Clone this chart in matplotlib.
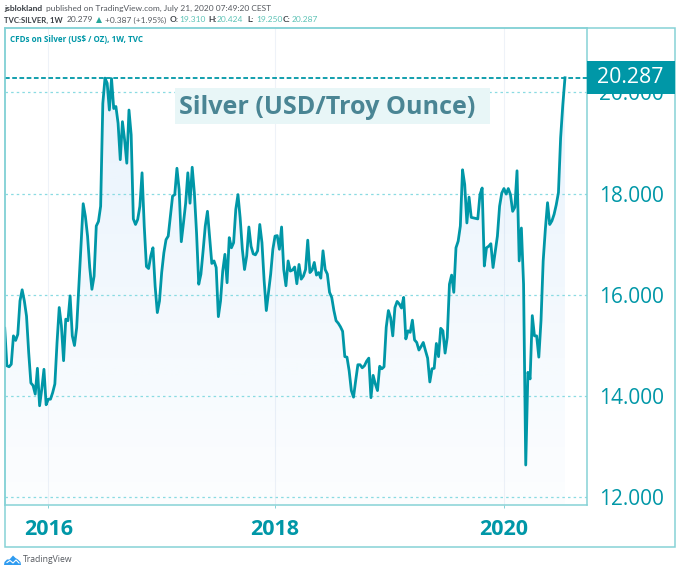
import matplotlib
matplotlib.use("Agg")
import matplotlib.pyplot as plt
from matplotlib.patches import Rectangle, Polygon
import numpy as np

plt.rcParams['font.family'] = ['Open Sans', 'DejaVu Sans']

W, H = 680, 571
TEAL = "#0097A7"
FRAME = "#86D2D6"
GRID = "#8ADBE2"
DARK = "#3A3F45"
GREY = "#55595f"
HEAD = ['Lato', 'DejaVu Sans']

# weekly closes
prices = [
    15.34, 14.60, 14.58, 14.63, 15.19, 15.10, 15.22, 15.88, 16.10, 15.88, 15.58, 14.86, 14.26, 14.21,
    14.04, 14.55, 13.81, 14.14, 14.53, 13.83, 13.94, 13.94, 14.07, 14.24, 15.06, 15.75, 15.39, 14.70,
    15.52, 15.49, 15.98, 15.19, 15.00, 15.35, 16.17, 16.95, 17.80, 17.55, 17.16, 16.54, 16.11, 16.37,
    17.36, 17.45, 17.75, 19.78, 20.28, 20.18, 19.65, 20.27, 19.68, 19.72, 19.39, 18.67, 19.42, 19.06,
    18.60, 19.65, 19.16, 17.50, 17.39, 17.49, 17.75, 18.41, 17.36, 16.56, 16.52, 16.77, 16.93, 16.17,
    15.65, 15.88, 16.44, 16.83, 17.09, 17.16, 17.55, 17.95, 17.98, 18.50, 18.08, 17.05, 17.42, 17.81,
    18.41, 17.81, 18.52, 18.01, 17.22, 16.21,
    16.41, 16.87, 17.36, 17.65, 17.13, 16.62, 16.67, 16.54, 15.57, 15.88, 16.47, 16.80, 16.24, 17.13,
    16.93, 17.03, 17.69, 17.98, 17.52, 16.90, 16.50, 16.77, 17.34, 16.96, 16.81, 16.79, 16.87, 17.39,
    17.03, 16.28, 15.69, 16.05, 16.41, 16.90, 17.16, 17.17, 16.90, 17.34, 16.50, 16.18, 16.67, 16.47,
    16.49, 16.55, 16.22, 16.60, 16.31, 16.37, 16.50, 17.08, 16.44, 16.49, 16.64, 16.39, 16.44, 16.33,
    16.87, 16.50, 16.41, 16.05, 15.95, 15.69, 15.49, 15.44, 15.37, 15.28, 14.78, 14.77, 14.50, 14.11,
    13.98, 14.31, 14.62, 14.62, 14.56, 14.60, 14.69, 14.75, 13.97, 14.41, 14.24, 14.11, 14.59, 14.54,
    14.58, 15.36, 15.69,
    15.55, 15.19, 15.75, 15.87, 15.82, 15.74, 15.95, 15.13, 15.29, 15.26, 15.50, 15.11, 15.06, 14.91,
    14.98, 15.06, 14.90, 14.75, 14.28, 14.54, 14.55, 15.04, 14.78, 15.34, 15.29, 14.85, 15.16, 16.21,
    16.39, 16.05, 16.93, 17.06, 17.36, 18.47, 18.18, 17.42, 17.93, 17.53, 17.52, 17.51, 17.50, 17.98,
    18.11, 16.57, 16.93, 16.96, 17.01, 16.54, 16.85, 17.16, 17.75, 18.01, 18.10, 17.99, 18.10, 17.98, 17.65,
    17.73, 18.45, 16.67, 17.32, 16.21, 12.64, 14.47, 14.34, 15.59, 15.19, 15.19, 14.77, 15.49, 16.67,
    17.30, 17.82, 17.39, 17.46, 17.59, 17.78, 18.02, 19.10, 19.75, 20.287,
]
y_ticks = [12, 14, 16, 18, 20]
# the time axis counts bars, years sit on the first bar of the year
x_ticks = [20, 124, 229]
x_labels = ["2016", "2018", "2020"]
last_price = 20.287

bars = np.arange(len(prices))

fig = plt.figure(figsize=(W / 100, H / 100), dpi=100, facecolor="white")


def axes_from_px(x0, y0, x1, y1):
    return [x0 / W, 1 - y1 / H, (x1 - x0) / W, (y1 - y0) / H]


ax = fig.add_axes(axes_from_px(4.5, 28, 587, 504.5))
xl = (-0.1, 267.1)
yl = (11.86, 21.27)

# gradient under the line
shade = ax.fill_between(bars, prices, yl[0], color="none")
ramp = np.linspace(0, 1, 256).reshape(-1, 1)
colors = np.zeros((256, 1, 4))
colors[..., :3] = matplotlib.colors.to_rgb("#2f8fe8")
colors[..., 3] = 0.015 + 0.105 * ramp
img = ax.imshow(colors, origin="lower", aspect="auto", extent=[xl[0], xl[1], yl[0], yl[1]], zorder=1)
img.set_clip_path(shade.get_paths()[0], transform=ax.transData)
ax.set_xlim(xl)
ax.set_ylim(yl)

for t in x_ticks:
    ax.axvline(t, color="#EEF2F8", lw=0.8, zorder=0.5)
for v in y_ticks:
    ax.axhline(v, color=GRID, lw=0.9, dashes=(2, 2.5), zorder=2)
ax.axhline(last_price, color=TEAL, lw=1.3, dashes=(2.6, 1.4), zorder=3)

ax.plot(bars, prices, color=TEAL, lw=2.0, solid_joinstyle="round", zorder=4)

ax.yaxis.tick_right()
ax.set_yticks(y_ticks, [f"{v:.3f}" for v in y_ticks])
ax.set_xticks(x_ticks, x_labels)
ax.tick_params(axis="y", length=0, pad=9, labelsize=15, labelcolor=TEAL)
ax.tick_params(axis="x", length=2.5, width=0.7, color=FRAME, pad=8, labelsize=15.5, labelcolor=TEAL)
for lab in ax.get_xticklabels():
    lab.set_fontweight("bold")
for s in ax.spines.values():
    s.set_color(FRAME)
    s.set_linewidth(1.1)

# overlay in pixel coords for frame, header, price tag and logo
ov = fig.add_axes([0, 0, 1, 1], zorder=5)
ov.set_xlim(0, W)
ov.set_ylim(H, 0)
ov.axis("off")
ov.patch.set_alpha(0)

ov.add_patch(Rectangle((4.5, 28), 670.5, 519, fill=False, ec=FRAME, lw=1.1))
ov.add_patch(Rectangle((587, 61), 87.5, 33, fc=TEAL, ec="none"))
ov.text(630, 77.5, f"{last_price:.3f}", color="white", fontsize=15.3, ha="center", va="center")

ov.add_patch(Rectangle((175, 88), 315, 35.5, fc="#E8F6F7", ec="none"))
ov.text(179, 107, "Silver (USD/Troy Ounce)", color="#4A8594", fontsize=18.1, fontweight="bold",
        ha="left", va="center")
ov.text(10, 40, "CFDs on Silver (US$ / OZ), 1W, TVC", color=TEAL, fontsize=5.8, fontweight="bold",
        ha="left", va="center")

ov.text(4, 8, "jsblokland", color=DARK, fontsize=6.1, family=HEAD, fontweight="bold", ha="left", va="center")
ov.text(45.5, 8, "published on TradingView.com, July 21, 2020 07:49:20 CEST", color=GREY, fontsize=6.0,
        family=HEAD, ha="left", va="center")

ov.text(4, 20, "TVC:SILVER, 1W", color=DARK, fontsize=5.6, family=HEAD, fontweight="bold", ha="left", va="center")
ov.text(67, 20, "20.279", color=GREY, fontsize=6.0, family=HEAD, ha="left", va="center")
ov.add_patch(Polygon([(96, 23), (102, 23), (99, 17)], fc="#26A69A", ec="none"))
ov.text(105, 20, "+0.387 (+1.95%)", color=GREY, fontsize=6.0, family=HEAD, ha="left", va="center")
ohlc = [("O:", 170, "19.310"), ("H:", 208, "20.424"), ("L:", 247, "19.250"), ("C:", 283, "20.287")]
for name, x, val in ohlc:
    ov.text(x, 20, name, color=DARK, fontsize=6.0, family=HEAD, fontweight="bold", ha="left", va="center")
    ov.text(x + 9, 20, val, color="#5CC2B5", fontsize=6.0, family=HEAD, ha="left", va="center")

# TradingView mark
ov.add_patch(Polygon([(4, 565), (4.5, 562), (7, 559.5), (9.5, 559.5), (13, 555.5), (15.5, 558),
                      (18, 559.5), (20.5, 562), (21, 565)], fc="#2E9BF0", ec="none"))
ov.plot([7, 10, 13, 16, 19], [562.5, 560.5, 563, 560, 563], color="white", lw=0.8)
ov.text(23, 559.5, "TradingView", color=GREY, fontsize=6.2, ha="left", va="center")

fig.savefig("out.png", dpi=100)
